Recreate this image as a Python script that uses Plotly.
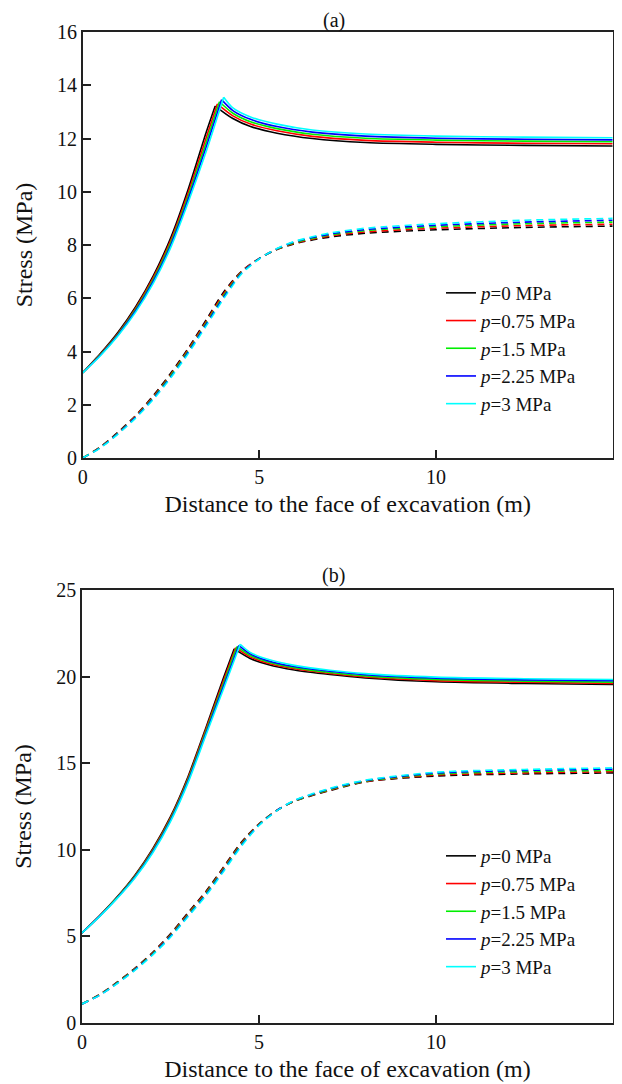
import plotly.graph_objects as go

# ---------------- data ----------------
labels = ["<i>p</i>=0 MPa", "<i>p</i>=0.75 MPa", "<i>p</i>=1.5 MPa", "<i>p</i>=2.25 MPa", "<i>p</i>=3 MPa"]
colors = ["#000000", "#ff0000", "#00ee00", "#0000ff", "#00ffff"]

# Panel (a) - solid curves: rising branch (common x grid) + peak, then decaying branch
a_rise_x = [0, 0.5, 1, 1.5, 2, 2.5, 3, 3.5]
a_peak_x = [3.75, 3.81, 3.87, 3.93, 3.99]
a_peak_v = [13.22, 13.30, 13.38, 13.46, 13.55]
a_rise_p0 = [3.2, 3.92, 4.72, 5.68, 6.85, 8.30, 10.15, 12.25]
a_rise_p075 = [3.2, 3.90, 4.68, 5.63, 6.78, 8.20, 10.02, 12.05]
a_rise_p15 = [3.2, 3.88, 4.65, 5.58, 6.71, 8.11, 9.89, 11.87]
a_rise_p225 = [3.2, 3.86, 4.62, 5.53, 6.64, 8.02, 9.77, 11.70]
a_rise_p3 = [3.2, 3.84, 4.59, 5.48, 6.57, 7.93, 9.65, 11.53]
a_decay_x = [4.25, 4.75, 5.5, 6.5, 8, 10, 12.5, 15]
a_decay_p0 = [12.75, 12.45, 12.20, 12.00, 11.85, 11.78, 11.74, 11.72]
a_decay_p075 = [12.85, 12.54, 12.29, 12.08, 11.93, 11.86, 11.82, 11.80]
a_decay_p15 = [12.95, 12.63, 12.37, 12.16, 12.01, 11.94, 11.90, 11.88]
a_decay_p225 = [13.05, 12.72, 12.45, 12.24, 12.09, 12.01, 11.97, 11.95]
a_decay_p3 = [13.15, 12.81, 12.54, 12.32, 12.17, 12.09, 12.05, 12.03]

# Panel (a) - dashed curves
a_dash_x = [0, 0.5, 1, 1.5, 2, 2.5, 3, 3.5, 4, 4.5, 5, 5.5, 6, 7, 8, 10, 12.5, 15]
a_dash_p0 = [0, 0.42, 0.97, 1.60, 2.35, 3.20, 4.15, 5.20, 6.25, 7.02, 7.50, 7.83, 8.05, 8.30, 8.44, 8.57, 8.66, 8.71]
a_dash_p075 = [0, 0.41, 0.95, 1.58, 2.31, 3.15, 4.10, 5.14, 6.19, 7.00, 7.50, 7.84, 8.07, 8.34, 8.49, 8.63, 8.73, 8.78]
a_dash_p15 = [0, 0.40, 0.93, 1.55, 2.27, 3.11, 4.05, 5.08, 6.12, 6.97, 7.49, 7.85, 8.09, 8.38, 8.54, 8.69, 8.80, 8.86]
a_dash_p225 = [0, 0.39, 0.92, 1.53, 2.24, 3.06, 4.00, 5.03, 6.06, 6.95, 7.49, 7.86, 8.12, 8.41, 8.58, 8.74, 8.86, 8.93]
a_dash_p3 = [0, 0.38, 0.90, 1.50, 2.20, 3.02, 3.95, 4.97, 6.00, 6.92, 7.48, 7.87, 8.14, 8.45, 8.63, 8.80, 8.93, 9.00]

# Panel (b) - solid curves
b_rise_x = [0, 0.5, 1, 1.5, 2, 2.5, 3, 3.5, 4]
b_peak_x = [4.30, 4.34, 4.38, 4.43, 4.47]
b_peak_v = [21.60, 21.67, 21.73, 21.80, 21.87]
b_rise_p0 = [5.2, 6.20, 7.30, 8.55, 10.07, 11.91, 14.25, 17.05, 19.95]
b_rise_p075 = [5.2, 6.19, 7.28, 8.51, 10.01, 11.84, 14.16, 16.94, 19.79]
b_rise_p15 = [5.2, 6.18, 7.26, 8.47, 9.95, 11.77, 14.07, 16.83, 19.62]
b_rise_p225 = [5.2, 6.17, 7.23, 8.43, 9.89, 11.70, 13.98, 16.72, 19.46]
b_rise_p3 = [5.2, 6.16, 7.21, 8.39, 9.83, 11.63, 13.89, 16.61, 19.30]
b_decay_x = [4.75, 5.25, 6, 7, 8, 10, 12.5, 15]
b_decay_p0 = [21.05, 20.70, 20.38, 20.12, 19.92, 19.70, 19.60, 19.54]
b_decay_p075 = [21.14, 20.77, 20.45, 20.18, 19.98, 19.77, 19.67, 19.61]
b_decay_p15 = [21.23, 20.85, 20.52, 20.24, 20.04, 19.84, 19.74, 19.68]
b_decay_p225 = [21.31, 20.92, 20.58, 20.31, 20.11, 19.91, 19.81, 19.76]
b_decay_p3 = [21.40, 21.00, 20.65, 20.37, 20.17, 19.97, 19.88, 19.83]

# Panel (b) - dashed curves
b_dash_x = [0, 0.5, 1, 1.5, 2, 2.5, 3, 3.5, 4, 4.5, 5, 5.5, 6, 7, 8, 10, 12.5, 15]
b_dash_p0 = [1.1, 1.65, 2.37, 3.17, 4.08, 5.15, 6.38, 7.60, 9.01, 10.43, 11.50, 12.27, 12.80, 13.42, 13.92, 14.26, 14.38, 14.44]
b_dash_p075 = [1.1, 1.64, 2.35, 3.14, 4.04, 5.10, 6.32, 7.54, 8.95, 10.37, 11.48, 12.27, 12.81, 13.45, 13.94, 14.31, 14.44, 14.51]
b_dash_p15 = [1.1, 1.63, 2.33, 3.11, 4.00, 5.05, 6.26, 7.47, 8.88, 10.31, 11.46, 12.26, 12.82, 13.48, 13.96, 14.37, 14.51, 14.58]
b_dash_p225 = [1.1, 1.61, 2.30, 3.08, 3.97, 5.00, 6.20, 7.41, 8.82, 10.25, 11.43, 12.26, 12.84, 13.52, 13.99, 14.43, 14.58, 14.66]
b_dash_p3 = [1.1, 1.60, 2.28, 3.05, 3.93, 4.95, 6.15, 7.35, 8.75, 10.20, 11.40, 12.25, 12.85, 13.55, 14.02, 14.48, 14.64, 14.73]

x_ticks = [0, 5, 10, 15]
a_y_ticks = [0, 2, 4, 6, 8, 10, 12, 14, 16]
b_y_ticks = [0, 5, 10, 15, 20, 25]

# ---------------- figure ----------------
FONT = "Liberation Serif, Times New Roman, serif"
fig = go.Figure()

panels = [
    dict(xa="x", ya="y", leg="legend",
         rise_x=a_rise_x, peak_x=a_peak_x, peak_v=a_peak_v,
         rise=[a_rise_p0, a_rise_p075, a_rise_p15, a_rise_p225, a_rise_p3],
         decay_x=a_decay_x,
         decay=[a_decay_p0, a_decay_p075, a_decay_p15, a_decay_p225, a_decay_p3],
         dash_x=a_dash_x,
         dash=[a_dash_p0, a_dash_p075, a_dash_p15, a_dash_p225, a_dash_p3]),
    dict(xa="x2", ya="y2", leg="legend2",
         rise_x=b_rise_x, peak_x=b_peak_x, peak_v=b_peak_v,
         rise=[b_rise_p0, b_rise_p075, b_rise_p15, b_rise_p225, b_rise_p3],
         decay_x=b_decay_x,
         decay=[b_decay_p0, b_decay_p075, b_decay_p15, b_decay_p225, b_decay_p3],
         dash_x=b_dash_x,
         dash=[b_dash_p0, b_dash_p075, b_dash_p15, b_dash_p225, b_dash_p3]),
]

LW = 1.6
for pi, P in enumerate(panels):
    for i in range(5):
        fig.add_trace(go.Scatter(
            x=P["dash_x"], y=P["dash"][i], mode="lines",
            line=dict(color=colors[i], width=LW, dash="7px,5px", shape="spline", smoothing=0.8),
            xaxis=P["xa"], yaxis=P["ya"], showlegend=False, hoverinfo="skip"))
    for i in range(5):
        rx = P["rise_x"] + [P["peak_x"][i]]
        ry = P["rise"][i] + [P["peak_v"][i]]
        fig.add_trace(go.Scatter(
            x=rx, y=ry, mode="lines",
            line=dict(color=colors[i], width=LW, shape="spline", smoothing=0.6),
            xaxis=P["xa"], yaxis=P["ya"], name=labels[i], legend=P["leg"],
            legendgroup=f"g{pi}{i}", showlegend=True))
        dx = [P["peak_x"][i]] + P["decay_x"]
        dy = [P["peak_v"][i]] + P["decay"][i]
        fig.add_trace(go.Scatter(
            x=dx, y=dy, mode="lines",
            line=dict(color=colors[i], width=LW, shape="spline", smoothing=0.8),
            xaxis=P["xa"], yaxis=P["ya"], legendgroup=f"g{pi}{i}", showlegend=False))

# page body has an 8px margin: figure pixel = window pixel - 8
W, H = 614, 1076
axis_common = dict(showline=True, mirror=True, linecolor="#222", linewidth=1.6,
                   ticks="inside", ticklen=8, tickwidth=1.6, tickcolor="#222",
                   showgrid=False, zeroline=False, automargin=False,
                   tickfont=dict(family=FONT, size=20, color="#111"))
xtitle = dict(text="Distance to the face of excavation (m)", font=dict(family=FONT, size=24, color="#111"), standoff=8)
ytitle = dict(text="Stress (MPa)", font=dict(family=FONT, size=24, color="#111"), standoff=18)

legend_common = dict(font=dict(family=FONT, size=19, color="#111"), bgcolor="rgba(0,0,0,0)",
                     borderwidth=0, xanchor="left", yanchor="top", tracegroupgap=0,
                     itemclick=False, itemdoubleclick=False)

fig.update_layout(
    template="none",
    width=W, height=H, autosize=False,
    margin=dict(l=0, r=0, t=0, b=0, pad=0),
    paper_bgcolor="white", plot_bgcolor="white",
    font=dict(family=FONT, size=20, color="#111"),
    showlegend=True,
    xaxis=dict(domain=[74.7 / W, 604.7 / W], range=[0, 15], tickvals=x_ticks, title=xtitle, anchor="y", **axis_common),
    yaxis=dict(domain=[1 - 450 / H, 1 - 24 / H], range=[0, 16], tickvals=a_y_ticks, title=ytitle, anchor="x", **axis_common),
    xaxis2=dict(domain=[74.0 / W, 605 / W], range=[0, 15], tickvals=x_ticks, title=xtitle, anchor="y2", **axis_common),
    yaxis2=dict(domain=[1 - 1015 / H, 1 - 582 / H], range=[0, 25], tickvals=b_y_ticks, title=ytitle, anchor="x2", **axis_common),
    legend=dict(x=433 / W, y=1 - 266 / H, **legend_common),
    legend2=dict(x=433 / W, y=1 - 829 / H, **legend_common),
    annotations=[
        dict(text="(a)", x=325.5 / W, y=1 - 12 / H, xref="paper", yref="paper", showarrow=False,
             font=dict(family=FONT, size=20, color="#111"), xanchor="center", yanchor="middle"),
        dict(text="(b)", x=325.5 / W, y=1 - 567 / H, xref="paper", yref="paper", showarrow=False,
             font=dict(family=FONT, size=20, color="#111"), xanchor="center", yanchor="middle"),
    ],
)

fig.write_html("out.html")
